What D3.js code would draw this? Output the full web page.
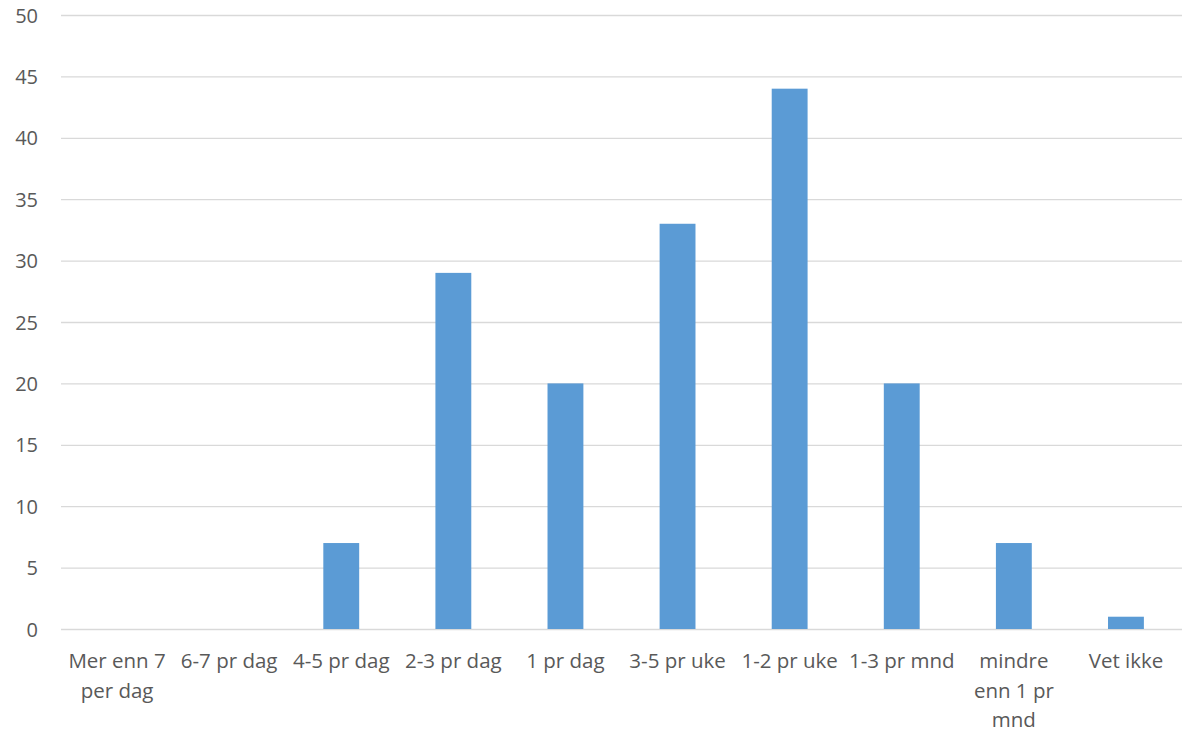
<!DOCTYPE html>
<html>
<head>
<meta charset="utf-8">
<script src="https://cdn.jsdelivr.net/npm/d3@7"></script>
<style>
  body { margin: 0; background: #fff; }
  text { font-family: "Open Sans", "Liberation Sans", sans-serif; fill: #595959; }
</style>
</head>
<body>
<svg></svg>
<script>
// data
let categories = ["Mer enn 7\nper dag", "6-7 pr dag", "4-5 pr dag", "2-3 pr dag", "1 pr dag",
                  "3-5 pr uke", "1-2 pr uke", "1-3 pr mnd", "mindre\nenn 1 pr\nmnd", "Vet ikke"];
let values = [0, 0, 7, 29, 20, 33, 44, 20, 7, 1];
let yTicks = [0, 5, 10, 15, 20, 25, 30, 35, 40, 45, 50];

var svgWidth = 1183, svgHeight = 732;
var margin = {left: 61, right: 1, top: 15, bottom: 103};

var svg = d3.select('svg')
            .attr("width", svgWidth)
            .attr("height", svgHeight);

var xScale = d3.scaleBand()
               .domain(categories)
               .range([margin.left, svgWidth - margin.right])
               .paddingInner(0.68)
               .paddingOuter(0.34);

var yScale = d3.scaleLinear()
               .domain([0, 50])
               .range([svgHeight - margin.bottom, margin.top]);

// gridlines + y labels
var yAxis = svg.append("g")
               .attr("transform", `translate(${margin.left},0)`)
               .call(d3.axisLeft(yScale)
                       .tickValues(yTicks)
                       .tickSize(-(svgWidth - margin.left - margin.right))
                       .tickPadding(23));
yAxis.select(".domain").remove();
yAxis.selectAll("line").attr("stroke", "#d9d9d9").attr("stroke-width", 1.3);
yAxis.selectAll("text").style("font-size", "20px").attr("dy", "0.35em");

// bars
svg.selectAll("rect.bar")
   .data(values)
   .enter()
   .append("rect")
   .attr("class", "bar")
   .attr("x", (d, i) => xScale(categories[i]))
   .attr("y", d => yScale(d))
   .attr("width", xScale.bandwidth())
   .attr("height", d => yScale(0) - yScale(d))
   .attr("fill", "#5b9bd5");

// category labels
var xLabels = svg.selectAll("text.cat")
                 .data(categories)
                 .enter()
                 .append("text")
                 .attr("class", "cat")
                 .attr("text-anchor", "middle")
                 .style("font-size", "20.5px")
                 .attr("transform", d => `translate(${xScale(d) + xScale.bandwidth() / 2},668)`);
xLabels.selectAll("tspan")
       .data(d => d.split("\n"))
       .enter()
       .append("tspan")
       .attr("x", 0)
       .attr("y", (d, i) => i * 29.5)
       .text(d => d);
</script>
</body>
</html>
